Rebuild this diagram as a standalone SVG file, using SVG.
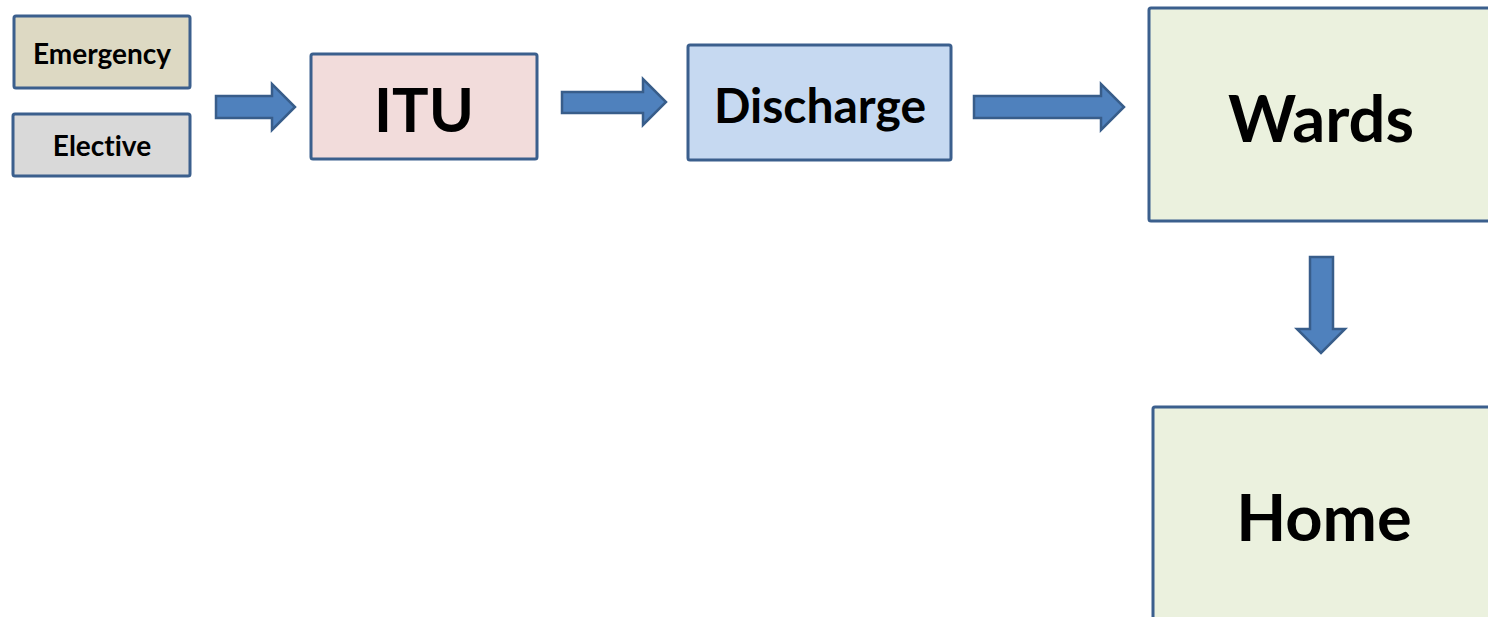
<svg xmlns="http://www.w3.org/2000/svg" width="1488" height="617" viewBox="0 0 1488 617">
  <style>
    .box { stroke: #3b5f8d; stroke-width: 3; }
    .lbl { font-family: Lato, "Open Sans", "Liberation Sans", sans-serif; font-weight: bold; fill: #000; text-anchor: middle; dominant-baseline: central; font-variant-ligatures: none; }
    .arrow { fill: #4f81bd; stroke: #385d8a; stroke-width: 2.5; stroke-linejoin: miter; }
  </style>
  <rect width="1488" height="617" fill="#ffffff"/>

  <g id="emergency">
    <rect class="box" x="14" y="16" width="176" height="72" rx="2" fill="#ddd9c3"/>
    <text class="lbl" x="102" y="53" font-size="28">Emergency</text>
  </g>
  <g id="elective">
    <rect class="box" x="13" y="114" width="177" height="62" rx="2" fill="#d9d9d9"/>
    <text class="lbl" x="102" y="145" font-size="28">Elective</text>
  </g>
  <g id="itu">
    <rect class="box" x="311" y="54" width="226" height="105" rx="2" fill="#f2dcdb"/>
    <text class="lbl" x="424" y="108" font-size="61">ITU</text>
  </g>
  <g id="discharge">
    <rect class="box" x="688" y="45" width="263" height="115" rx="2" fill="#c6d9f1"/>
    <text class="lbl" x="820" y="104" font-size="48">Discharge</text>
  </g>
  <g id="wards">
    <rect class="box" x="1149" y="8" width="360" height="213" rx="2" fill="#ebf1de"/>
    <text class="lbl" x="1321" y="117" font-size="65">Wards</text>
  </g>
  <g id="home">
    <rect class="box" x="1153" y="407" width="360" height="230" rx="2" fill="#ebf1de"/>
    <text class="lbl" x="1324" y="516" font-size="65">Home</text>
  </g>

  <g id="connectors">
    <polygon class="arrow" points="216,96 272,96 272,84 295,107 272,130 272,118 216,118"/>
    <polygon class="arrow" points="562,92 643,92 643,79 666,102 643,125 643,113 562,113"/>
    <polygon class="arrow" points="974,96 1101,96 1101,84 1124,107 1101,130 1101,118 974,118"/>
    <polygon class="arrow" points="1310,257 1333,257 1333,329 1345,329 1321,353 1297,329 1310,329"/>
  </g>
</svg>
